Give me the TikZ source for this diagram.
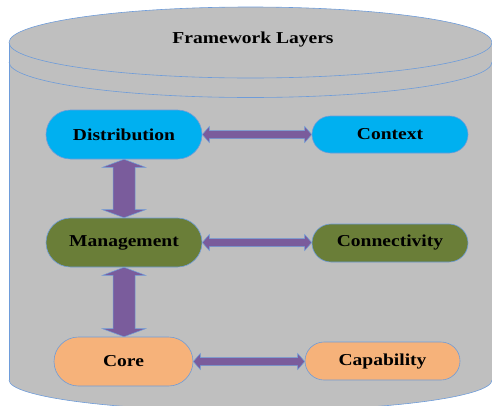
\documentclass[tikz,border=0pt]{standalone}
\usepackage{fontspec}
\setmainfont{Liberation Serif}[FakeStretch=1.17]
\usetikzlibrary{shapes.misc,calc}
\definecolor{cylgray}{HTML}{BFBFBF}
\definecolor{edgeblue}{HTML}{6E9CDA}
\definecolor{arrpurple}{HTML}{7A5C9C}
\definecolor{cblue}{HTML}{00B0F0}
\definecolor{colive}{HTML}{6A7E38}
\definecolor{cpeach}{HTML}{F6B27A}
\newcommand\hdarrow[2]{\draw[arr] let \p1=(#1.east), \p2=(#2.west) in
  (\x1,\y1) -- (\x1+7pt,\y1+8pt) -- (\x1+7pt,\y1+4pt) -- (\x2-7pt,\y1+4pt) -- (\x2-7pt,\y1+8pt) -- (\x2,\y1)
  -- (\x2-7pt,\y1-8pt) -- (\x2-7pt,\y1-4pt) -- (\x1+7pt,\y1-4pt) -- (\x1+7pt,\y1-8pt) -- cycle;}
\newcommand\vdarrow[2]{\draw[arr] let \p1=(#1.south), \p2=(#2.north) in
  (\x1,\y1) -- (\x1+21.5pt,\y1-8pt) -- (\x1+11pt,\y1-8pt) -- (\x1+11pt,\y2+8pt) -- (\x1+21.5pt,\y2+8pt) -- (\x1,\y2)
  -- (\x1-21.5pt,\y2+8pt) -- (\x1-11pt,\y2+8pt) -- (\x1-11pt,\y1-8pt) -- (\x1-21.5pt,\y1-8pt) -- cycle;}
\begin{document}
\begin{tikzpicture}[x=1pt,y=-1pt,
  pill/.style={rounded rectangle, draw=edgeblue, line width=0.6pt, text=black,
    font=\fontsize{16.7}{18}\selectfont\bfseries, inner sep=0pt,
    minimum width=156pt, minimum height=49pt},
  arr/.style={fill=arrpurple, draw=edgeblue, line width=0.5pt},
  cyl/.style={draw=edgeblue, line width=0.6pt}]
\useasboundingbox (0,0) rectangle (492,405);
% cylinder body
\fill[cylgray] (9,42.5) rectangle (492,380);
\fill[cylgray] (250.5,380) ellipse [x radius=241.5, y radius=31];
\filldraw[cyl, fill=cylgray] (250.5,42.5) ellipse [x radius=241.5, y radius=35.5];
\begin{scope}
  \clip (0,62) rectangle (500,120);
  \draw[cyl] (250.5,62) ellipse [x radius=241.5, y radius=35.5];
\end{scope}
\begin{scope}
  \clip (0,380) rectangle (500,420);
  \draw[cyl] (250.5,380) ellipse [x radius=241.5, y radius=31];
\end{scope}
\draw[cyl] (9,42.5) -- (9,380);
\draw[cyl] (492,42.5) -- (492,380);
\node[font=\fontsize{16.7}{18}\selectfont\bfseries] (title) at (253,40) {Framework Layers};
% nodes
\node[pill, fill=cblue] (dist) at (124,134.5) {Distribution};
\node[pill, fill=cblue, minimum height=37pt] (ctx) at (390,134.5) {Context};
\node[pill, fill=colive] (mgmt) at (124,242.5) {Management};
\node[pill, fill=colive, minimum height=38pt] (conn) at (390,243) {Connectivity};
\node[pill, fill=cpeach, minimum width=139pt] (core) at (123.5,361.5) {Core};
\node[pill, fill=cpeach, minimum height=38pt, minimum width=155pt] (cap) at (382.5,361) {Capability};
% arrows
\hdarrow{dist}{ctx}
\hdarrow{mgmt}{conn}
\hdarrow{core}{cap}
\vdarrow{dist}{mgmt}
\vdarrow{mgmt}{core}
\end{tikzpicture}
\end{document}
